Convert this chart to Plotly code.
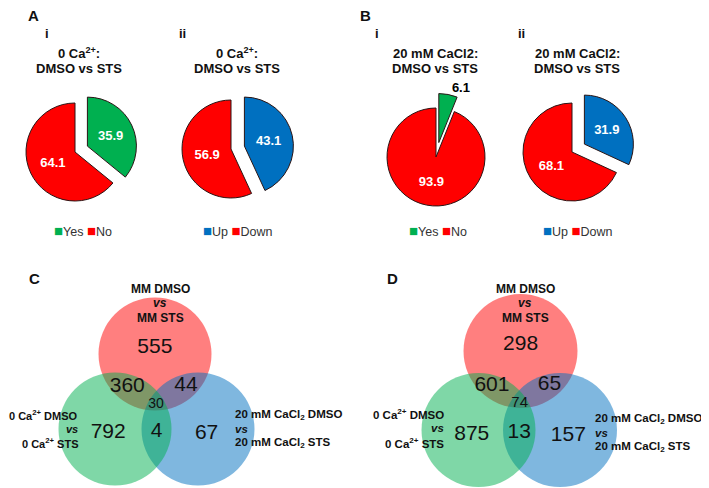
import math
import plotly.graph_objects as go

W, H = 709, 488      # screenshot size
OFF = 8              # page body margin offset
FW, FH = W - OFF, H - OFF

# ---------------- data ----------------
pie_ai_labels = ["Yes", "No"]
pie_ai_values = [35.9, 64.1]
pie_aii_labels = ["Up", "Down"]
pie_aii_values = [43.1, 56.9]
pie_bi_labels = ["Yes", "No"]
pie_bi_values = [6.1, 93.9]
pie_bii_labels = ["Up", "Down"]
pie_bii_values = [31.9, 68.1]

pie_ai_title = ["0 Ca<sup>2+</sup>:", "DMSO vs STS"]
pie_b_title = ["20 mM CaCl2:", "DMSO vs STS"]

venn_set_labels_top = ["MM DMSO", "<i>vs</i>", "MM STS"]
venn_set_labels_left = ["0 Ca<sup>2+</sup> DMSO", "<i>vs</i>", "0 Ca<sup>2+</sup> STS"]
venn_set_labels_right = ["20 mM CaCl<sub>2</sub> DMSO", "<i>vs</i>", "20 mM CaCl<sub>2</sub> STS"]
venn_regions = ["MM", "MM&0Ca", "MM&20Ca", "MM&0Ca&20Ca", "0Ca", "0Ca&20Ca", "20Ca"]
venn_c_counts = [555, 360, 44, 30, 792, 4, 67]
venn_d_counts = [298, 601, 65, 74, 875, 13, 157]

# ---------------- styles ----------------
FONT = "Liberation Sans, Arial, sans-serif"
GREEN, RED, BLUE = "#00B050", "#FF0000", "#0070C0"
OUTLINE = "#2a1515"

fig = go.Figure()
annotations = []


def ann(x, y, text, size=12, bold=False, xanchor="center", color="#111"):
    annotations.append(dict(
        x=x, y=y, xref="x", yref="y", text=text, showarrow=False,
        xanchor=xanchor, yanchor="middle",
        font=dict(family=FONT, size=size, color=color,
                  weight="bold" if bold else "normal")))


# ---------------- pies ----------------
R = 49
pies = [
    (pie_ai_labels, pie_ai_values, [GREEN, RED], (75, 152), 0.28, False),
    (pie_aii_labels, pie_aii_values, [BLUE, RED], (231, 149), 0.28, False),
    (pie_bi_labels, pie_bi_values, [GREEN, RED], (436, 157), 0.30, True),
    (pie_bii_labels, pie_bii_values, [BLUE, RED], (572, 152), 0.30, False),
]
for labels, values, colors, (cx, cy), pull, small_out in pies:
    half = R * (1 + pull)
    fig.add_trace(go.Pie(
        labels=labels, values=values, sort=False, direction="clockwise",
        rotation=0, pull=[pull, 0],
        marker=dict(colors=colors, line=dict(color=OUTLINE, width=1)),
        texttemplate="%{value:.1f}",
        textposition=["outside", "inside"] if small_out else "inside",
        insidetextorientation="horizontal",
        textfont=dict(family=FONT, size=13, color="white", weight="bold"),
        outsidetextfont=dict(family=FONT, size=13, color="black", weight="bold"),
        domain=dict(x=[(cx - half - OFF) / FW, (cx + half - OFF) / FW],
                    y=[1 - (cy + half - OFF) / FH, 1 - (cy - half - OFF) / FH]),
        showlegend=False, hoverinfo="skip",
    ))

# panel letters and sub-labels
ann(33, 15, "A", 15, True)
ann(365, 15, "B", 15, True)
ann(47, 33, "i", 13, True)
ann(182, 33, "ii", 13, True)
ann(377, 33, "i", 13, True)
ann(521, 33, "ii", 13, True)

# pie titles
for cx, title in [(79, pie_ai_title), (237, pie_ai_title),
                  (435, pie_b_title), (577, pie_b_title)]:
    ann(cx, 53, title[0], 13, True)
    ann(cx, 68, title[1], 13, True)


# pie legends
def legend_text(labels, colors):
    parts = [f"<span style='color:{c};font-size:15px'>■</span>{l}"
             for l, c in zip(labels, colors)]
    return " ".join(parts)


ann(83, 230, legend_text(pie_ai_labels, [GREEN, RED]), 12.5, color="#333")
ann(238, 230, legend_text(pie_aii_labels, [BLUE, RED]), 12.5, color="#333")
ann(438, 230, legend_text(pie_bi_labels, [GREEN, RED]), 12.5, color="#333")
ann(578, 230, legend_text(pie_bii_labels, [BLUE, RED]), 12.5, color="#333")

# ---------------- venns ----------------
shapes = []
venn_fill = {"red": "rgba(255,0,0,0.5)", "blue": "rgba(0,112,192,0.5)",
             "green": "rgba(0,176,80,0.5)"}


def unit(dx, dy):
    n = math.hypot(dx, dy) or 1
    return dx / n, dy / n


def venn(counts, red_c, green_c, blue_c, r, triple_size):
    # draw order red, blue, green
    for (cx, cy), key in [(red_c, "red"), (blue_c, "blue"), (green_c, "green")]:
        shapes.append(dict(type="circle", xref="x", yref="y",
                           x0=cx - r, x1=cx + r, y0=cy - r, y1=cy + r,
                           fillcolor=venn_fill[key], line=dict(width=0), layer="below"))
    cen = ((red_c[0] + green_c[0] + blue_c[0]) / 3, (red_c[1] + green_c[1] + blue_c[1]) / 3)

    def single(c, d):
        ux, uy = unit(c[0] - cen[0], c[1] - cen[1])
        return c[0] + d * ux, c[1] + d * uy

    def pair(a, b, third, d):
        mx, my = (a[0] + b[0]) / 2, (a[1] + b[1]) / 2
        ux, uy = unit(mx - third[0], my - third[1])
        return mx + d * ux, my + d * uy

    pos = [single(red_c, 6), pair(red_c, green_c, blue_c, 9),
           pair(red_c, blue_c, green_c, 11), cen,
           single(green_c, 8), pair(green_c, blue_c, red_c, 3),
           single(blue_c, 10)]
    sizes = [21, 21, 21, triple_size, 21, 21, 21]
    fig.add_trace(go.Scatter(
        x=[p[0] for p in pos], y=[p[1] for p in pos], mode="text",
        text=[str(v) for v in counts], textposition="middle center",
        textfont=dict(family=FONT, size=sizes, color="#111"),
        showlegend=False, hoverinfo="skip"))


venn(venn_c_counts, (155, 354), (115, 429), (198, 429), 56.5, 14)
venn(venn_d_counts, (520.5, 351), (478.5, 430), (560, 430), 57, 15)

ann(34, 278, "C", 15, True)
ann(392, 278, "D", 15, True)

for cx, ys in [(160, (289, 303, 318)), (525, (289, 303, 318))]:
    for y, t in zip(ys, venn_set_labels_top):
        ann(cx, y, t, 12, True)
for x, ys, fs in [(80, (415, 429, 443), 11), (446, (414, 428, 443), 11.5)]:
    for y, t in zip(ys, venn_set_labels_left):
        ann(x, y, t, fs, True, xanchor="right")
for x, ys in [(233, (415, 429, 443)), (593, (419, 433, 447))]:
    for y, t in zip(ys, venn_set_labels_right):
        ann(x, y, t, 11.5, True, xanchor="left")

fig.update_layout(
    width=FW, height=FH, margin=dict(l=0, r=0, t=0, b=0),
    paper_bgcolor="white", plot_bgcolor="white",
    xaxis=dict(range=[OFF, W], visible=False, fixedrange=True),
    yaxis=dict(range=[H, OFF], visible=False, fixedrange=True),
    shapes=shapes, annotations=annotations,
    font=dict(family=FONT),
)

fig.write_html("out.html")
